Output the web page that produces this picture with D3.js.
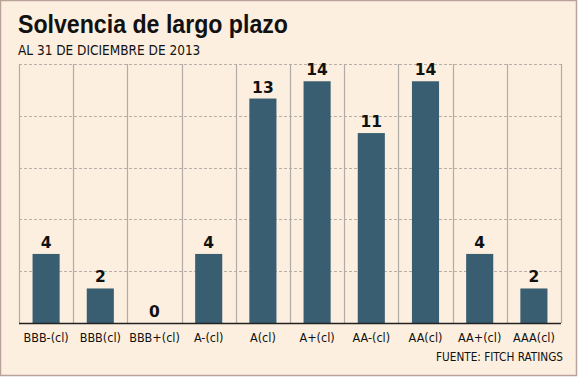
<!DOCTYPE html>
<html><head><meta charset="utf-8">
<script src="https://cdn.jsdelivr.net/npm/d3@7"></script>
<style>body{margin:0;background:#fff}</style>
</head><body>
<script>
const categories = ["BBB-(cl)","BBB(cl)","BBB+(cl)","A-(cl)","A(cl)","A+(cl)","AA-(cl)","AA(cl)","AA+(cl)","AAA(cl)"];
const values = [4,2,0,4,13,14,11,14,4,2];
const gridTicks = [0,3,6,9,12,15];
const title = "Solvencia de largo plazo";
const subtitle = "AL 31 DE DICIEMBRE DE 2013";
const source = "FUENTE: FITCH RATINGS";

const W=580,H=378;
const svg=d3.select("body").append("svg").attr("width",W).attr("height",H);
svg.append("rect").attr("x",0.5).attr("y",0.5).attr("width",576).attr("height",375)
  .attr("fill","#fcefdf").attr("stroke","#b9a29c").attr("stroke-width",1.5);

const font="'DejaVu Sans Condensed','DejaVu Sans',sans-serif";
svg.append("text").attr("x",18).attr("y",33).text(title)
  .attr("font-family","'Liberation Sans',Arial,sans-serif").attr("font-weight","bold").attr("font-size",25).attr("fill","#111")
  .attr("textLength",270).attr("lengthAdjust","spacingAndGlyphs");
svg.append("text").attr("x",18).attr("y",55).text(subtitle)
  .attr("font-family",font).attr("font-size",13.5).attr("fill","#111");

const x=d3.scaleBand().domain(categories).range([19,561]).paddingInner(0.5).paddingOuter(0.25);
const xb=d3.scaleBand().domain(categories).range([19,561]);
const y=d3.scaleLinear().domain([0,15]).range([323,64]);

// horizontal dashed grid
svg.append("g").selectAll("line").data(gridTicks.filter(d=>d>0)).join("line")
  .attr("x1",19).attr("x2",561).attr("y1",d=>Math.round(y(d))+0.5).attr("y2",d=>Math.round(y(d))+0.5)
  .attr("stroke","#b7b0a8").attr("stroke-dasharray","3,2").attr("stroke-width",1);
// vertical separators
const seps=categories.map(c=>xb(c)).concat([561]);
svg.append("g").selectAll("line").data(seps).join("line")
  .attr("x1",d=>Math.round(d)+0.5).attr("x2",d=>Math.round(d)+0.5).attr("y1",y(15)).attr("y2",y(0))
  .attr("stroke","#b3aca4").attr("stroke-width",1.2);

svg.append("g").selectAll("rect").data(values).join("rect")
  .attr("x",(d,i)=>x(categories[i])).attr("width",x.bandwidth())
  .attr("y",d=>y(d)).attr("height",d=>y(0)-y(d)).attr("fill","#3a5e71");

svg.append("g").selectAll("text").data(values).join("text")
  .attr("x",(d,i)=>x(categories[i])+x.bandwidth()/2).attr("y",d=>y(d)-6)
  .attr("text-anchor","middle").text(d=>d)
  .attr("font-family","'DejaVu Sans',Verdana,sans-serif").attr("font-weight","bold").attr("font-size",15.5).attr("fill","#111");

// baseline
svg.append("line").attr("x1",19).attr("x2",561).attr("y1",y(0)+0.5).attr("y2",y(0)+0.5).attr("stroke","#222").attr("stroke-width",1.3);

const ax=svg.append("g").attr("transform",`translate(0,${y(0)})`).call(d3.axisBottom(xb).tickSize(0).tickPadding(10));
ax.select(".domain").remove();
ax.selectAll("text").attr("font-family",font).attr("font-size",12.5).attr("fill","#111");

svg.append("text").attr("x",563).attr("y",361).attr("text-anchor","end").text(source)
  .attr("font-family",font).attr("font-size",11.7).attr("fill","#111");
</script>
</body></html>
